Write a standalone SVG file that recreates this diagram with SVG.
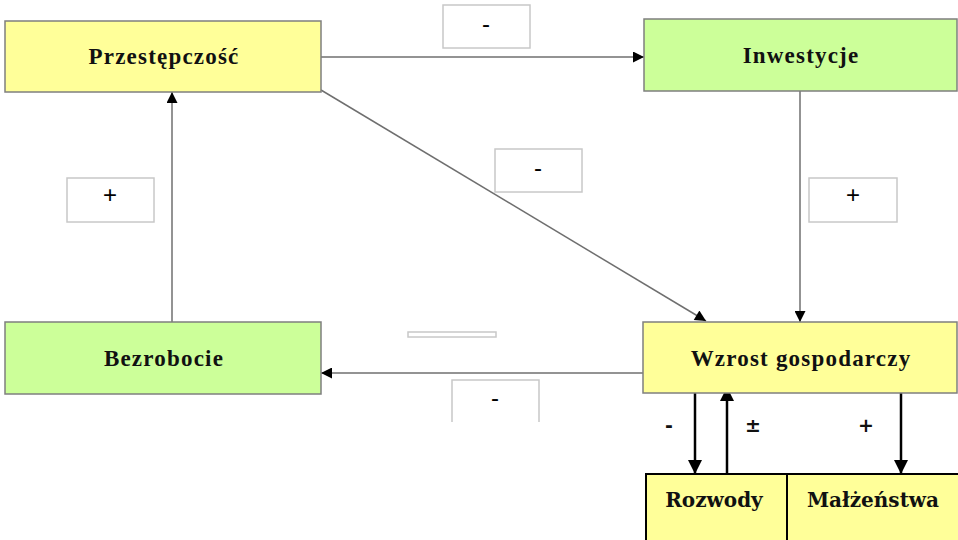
<svg xmlns="http://www.w3.org/2000/svg" width="958" height="540" viewBox="0 0 958 540">
<defs>
<style>
.node rect{stroke:#7f7f7f;stroke-width:1.5}
.y{fill:#ffff99}
.g{fill:#ccff99}
.t{font-family:"Liberation Serif",serif;font-weight:bold;font-size:23px;letter-spacing:1.2px;fill:#111;text-anchor:middle}
.t2{font-family:"DejaVu Serif","Liberation Serif",serif;font-weight:bold;font-size:20px;fill:#111;text-anchor:middle}
.lbl rect{fill:#fff;stroke:#c8c8c8;stroke-width:1.5}
.lt{font-family:"Liberation Sans",sans-serif;font-size:24px;fill:#000;text-anchor:middle}
.c{stroke:#6f6f6f;stroke-width:1.5;fill:none}
.k{stroke:#000;stroke-width:2.5;fill:none}
.s{font-family:"DejaVu Sans","Liberation Sans",sans-serif;font-weight:bold;font-size:19px;fill:#111;text-anchor:middle}
</style>
<marker id="a" viewBox="0 0 10 10" refX="10" refY="5" markerWidth="15" markerHeight="11" markerUnits="userSpaceOnUse" orient="auto"><path d="M0,0L10,5L0,10z" fill="#000"/></marker>
<marker id="b" viewBox="0 0 10 10" refX="10" refY="5" markerWidth="17" markerHeight="14" markerUnits="userSpaceOnUse" orient="auto"><path d="M0,0L10,5L0,10z" fill="#000"/></marker>
</defs>
<rect width="958" height="540" fill="#fff"/>
<g id="connectors">
<line class="c" x1="321" y1="57" x2="644" y2="57" marker-end="url(#a)"/>
<line class="c" x1="321" y1="90" x2="706" y2="321" marker-end="url(#a)"/>
<line class="c" x1="800" y1="91" x2="800" y2="322" marker-end="url(#a)"/>
<line class="c" x1="643" y1="373" x2="321" y2="373" marker-end="url(#a)"/>
<line class="c" x1="172" y1="322" x2="172" y2="92" marker-end="url(#a)"/>
<line class="k" x1="695" y1="393" x2="695" y2="474" marker-end="url(#b)"/>
<line class="k" x1="727" y1="474" x2="727" y2="387" marker-end="url(#b)"/>
<line class="k" x1="901" y1="387" x2="901" y2="474" marker-end="url(#b)"/>
</g>
<g id="labels">
<g class="lbl"><rect x="443" y="5" width="87" height="43"/><text class="lt" x="486" y="32">-</text></g>
<g class="lbl"><rect x="495" y="149" width="87" height="43"/><text class="lt" x="538" y="176">-</text></g>
<g class="lbl"><rect x="67" y="178" width="87" height="44"/><text class="lt" x="110" y="203">+</text></g>
<g class="lbl"><rect x="809" y="178" width="88" height="44"/><text class="lt" x="853" y="203">+</text></g>
<g class="lbl"><rect x="408" y="332" width="88" height="5"/></g>
<g class="lbl"><path d="M452,422V380H539V422" fill="#fff" stroke="#c8c8c8" stroke-width="1.5"/><text class="lt" x="495" y="406">-</text></g>
<text class="s" x="669" y="432">-</text>
<text class="s" x="753" y="432">±</text>
<text class="s" x="866" y="432">+</text>
</g>
<g id="n-przestepczosc" class="node"><rect class="y" x="5" y="21" width="316" height="71"/><text class="t" x="164" y="64">Przestępczość</text></g>
<g id="n-inwestycje" class="node"><rect class="g" x="644" y="19" width="313" height="72"/><text class="t" x="801" y="63">Inwestycje</text></g>
<g id="n-bezrobocie" class="node"><rect class="g" x="5" y="322" width="316" height="72"/><text class="t" x="164" y="366">Bezrobocie</text></g>
<g id="n-wzrost" class="node"><rect class="y" x="643" y="322" width="314" height="71"/><text class="t" x="801" y="366">Wzrost gospodarczy</text></g>
<g id="n-rozwody"><rect x="646" y="474" width="141" height="70" fill="#ffff99" stroke="#000" stroke-width="2"/><text class="t2" x="714" y="507">Rozwody</text></g>
<g id="n-malzenstwa"><rect x="787" y="474" width="172" height="70" fill="#ffff99" stroke="#000" stroke-width="2"/><text class="t2" x="873" y="507">Małżeństwa</text></g>
</svg>
